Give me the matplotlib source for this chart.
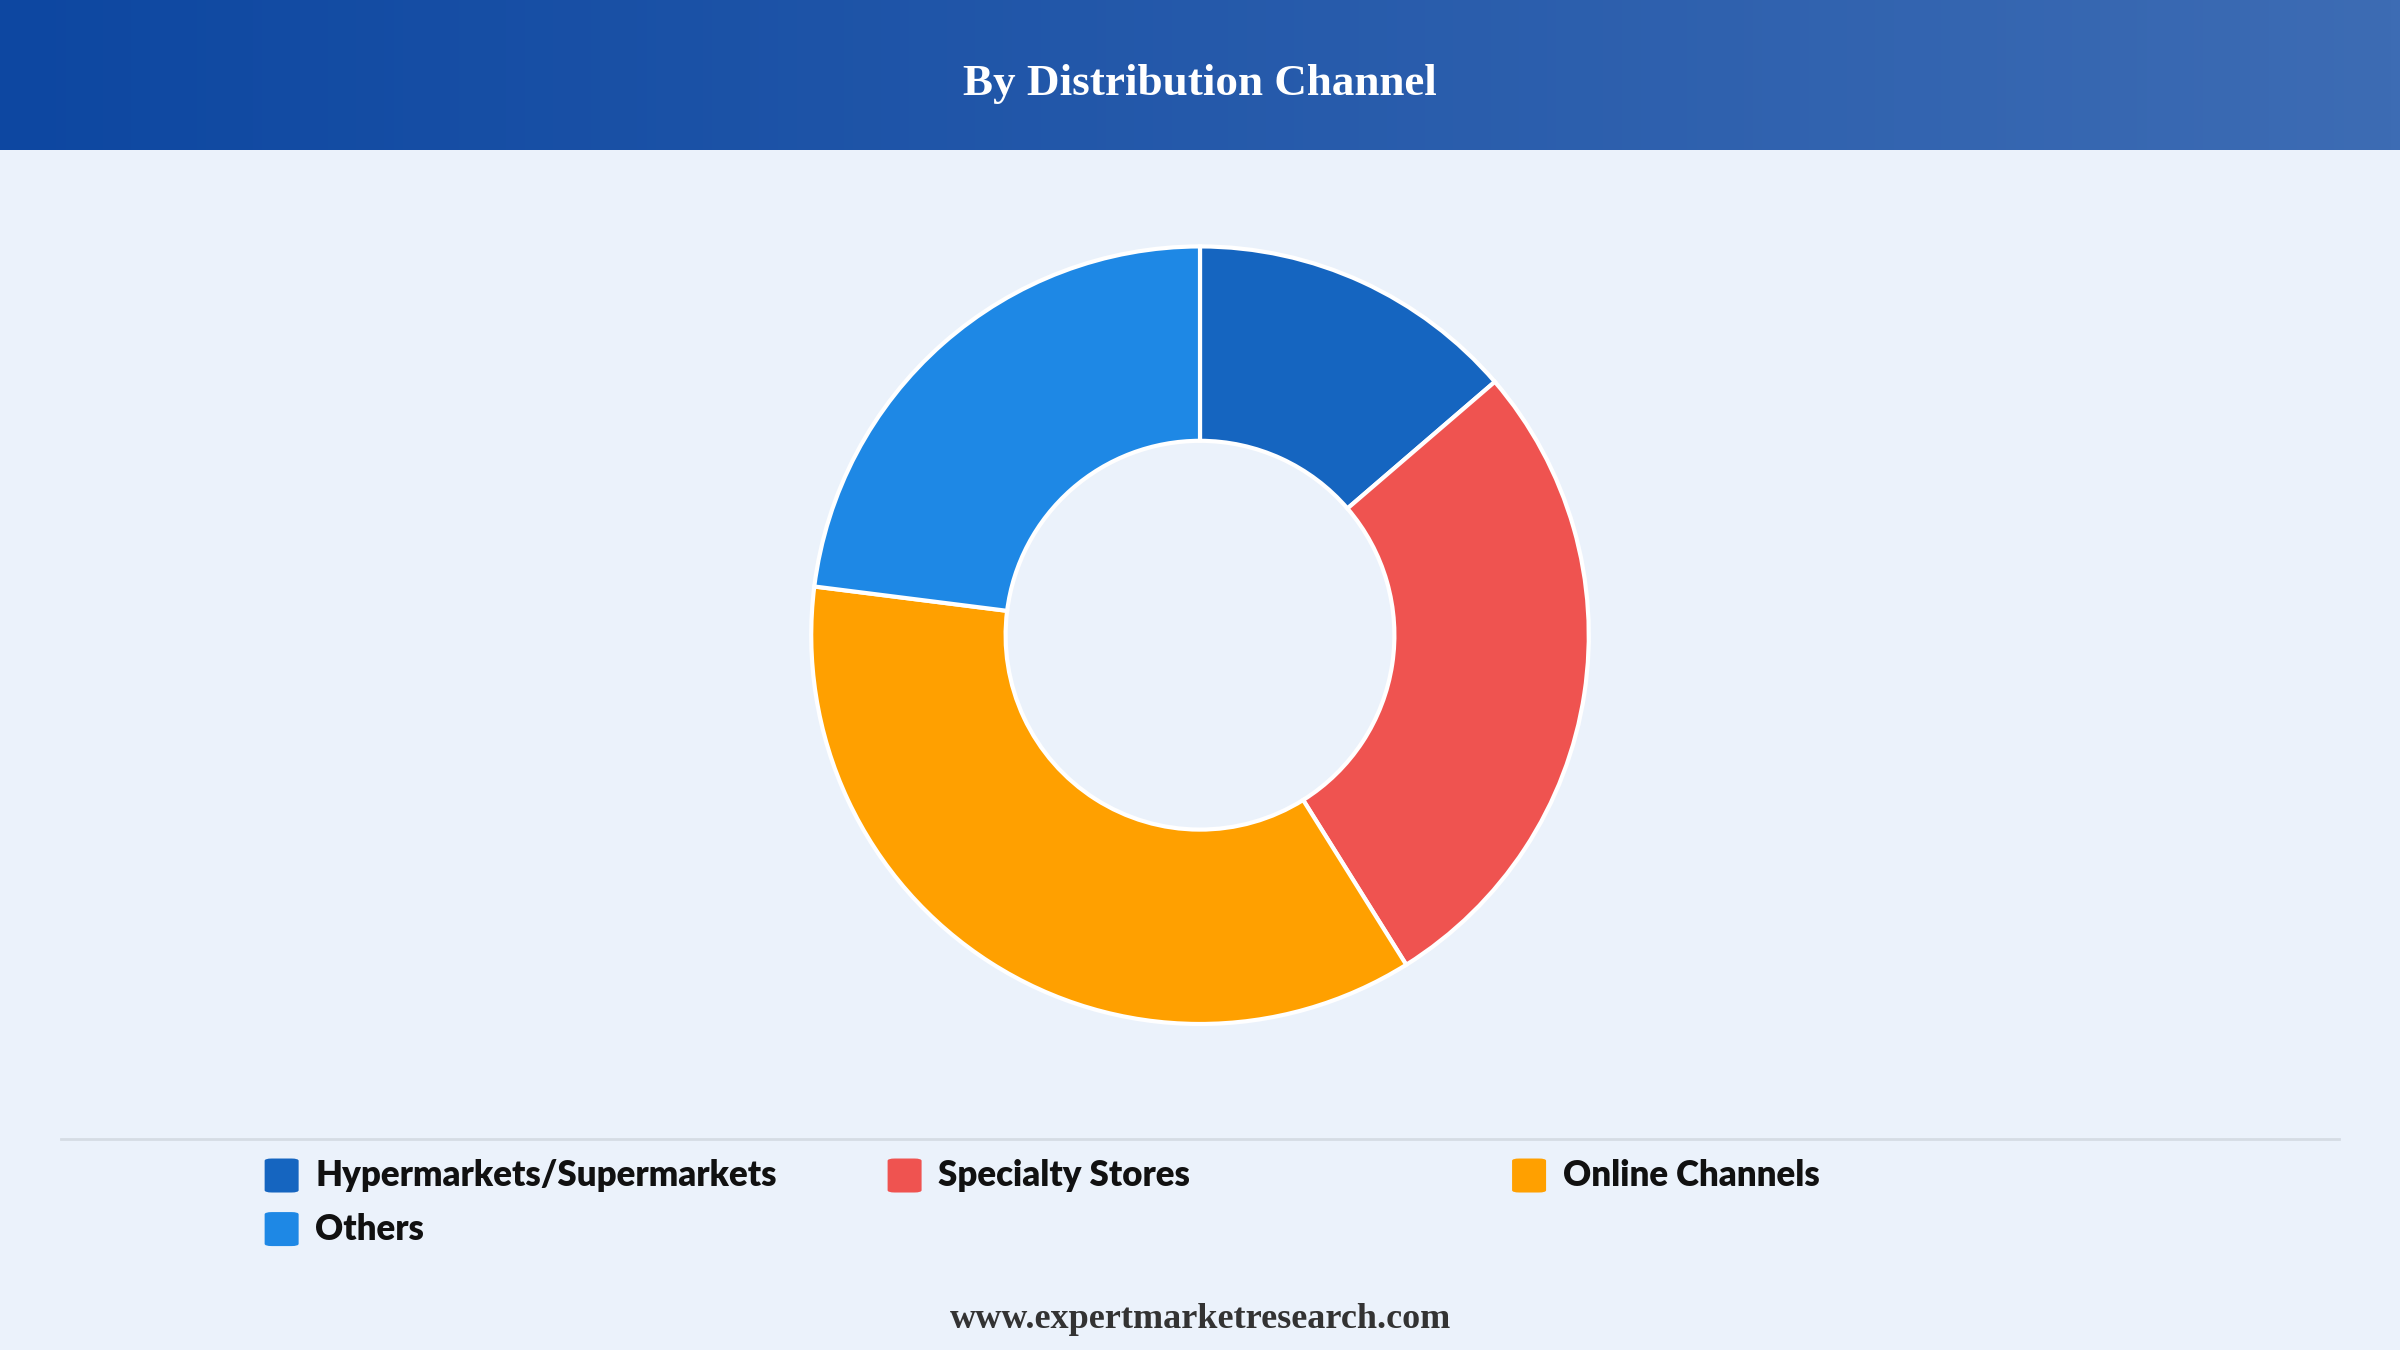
import matplotlib.pyplot as plt
import numpy as np
from matplotlib.patches import FancyBboxPatch
from matplotlib.colors import LinearSegmentedColormap

labels = ["Hypermarkets/Supermarkets", "Specialty Stores", "Online Channels", "Others"]
shares = [13.7, 27.4, 35.9, 23.0]
colors = ["#1565C0", "#EF5350", "#FFA000", "#1E88E5"]

BG = "#EBF2FB"

fig = plt.figure(figsize=(24, 13.5), dpi=100)
fig.patch.set_facecolor(BG)

# header gradient band
hdr = fig.add_axes([0, 1 - 98 / 882, 1, 98 / 882])
grad = np.linspace(0, 1, 256).reshape(1, -1)
cmap = LinearSegmentedColormap.from_list("hdr", ["#0D47A1", "#3D6CB4"])
hdr.imshow(grad, aspect="auto", cmap=cmap, extent=[0, 1, 0, 1])
hdr.set_axis_off()
hdr.text(0.5, 0.44, "By Distribution Channel", color="white", fontsize=32.5,
         fontweight="bold", family="Liberation Serif", ha="center", va="center")

# donut
r_px = 254 * 1350 / 882
w, h = 2 * r_px / 2400 * 1.02, 2 * r_px / 1350 * 1.02
cx, cy = 784 / 1568, 1 - 415 / 882
ax = fig.add_axes([cx - w / 2, cy - h / 2, w, h])
ax.pie(shares, colors=colors, startangle=90, counterclock=False, radius=1,
       wedgeprops=dict(width=0.5, edgecolor="white", linewidth=3))
ax.set_aspect("equal")
ax.set_xlim(-1.02, 1.02)
ax.set_ylim(-1.02, 1.02)
ax.set_axis_off()

# separator
fig.add_artist(plt.Line2D([40 / 1568, 1528 / 1568], [1 - 744 / 882] * 2,
                          color="#D5DCE4", linewidth=2))

# legend
pos = [(184, 768), (591, 768), (999, 768), (184, 803)]
for (x, y), lab, c in zip(pos, labels, colors):
    xf, yf = x / 1568, 1 - y / 882
    sw, sh = 34 / 2400, 34 / 1350
    fig.add_artist(FancyBboxPatch((xf - sw / 2, yf - sh / 2), sw, sh,
                                  boxstyle="round,pad=0,rounding_size=0.003",
                                  transform=fig.transFigure, facecolor=c,
                                  edgecolor="none", mutation_aspect=1350 / 2400))
    fig.text(xf + 22 / 1568, yf, lab, fontsize=25, fontweight="heavy",
             color="#111111", ha="left", va="center", family="Lato")

fig.text(0.5, 1 - 862 / 882, "www.expertmarketresearch.com", fontsize=26,
         fontweight="bold", family="Liberation Serif", color="#333333",
         ha="center", va="center")

fig.savefig("out.png", dpi=100, facecolor=BG)
